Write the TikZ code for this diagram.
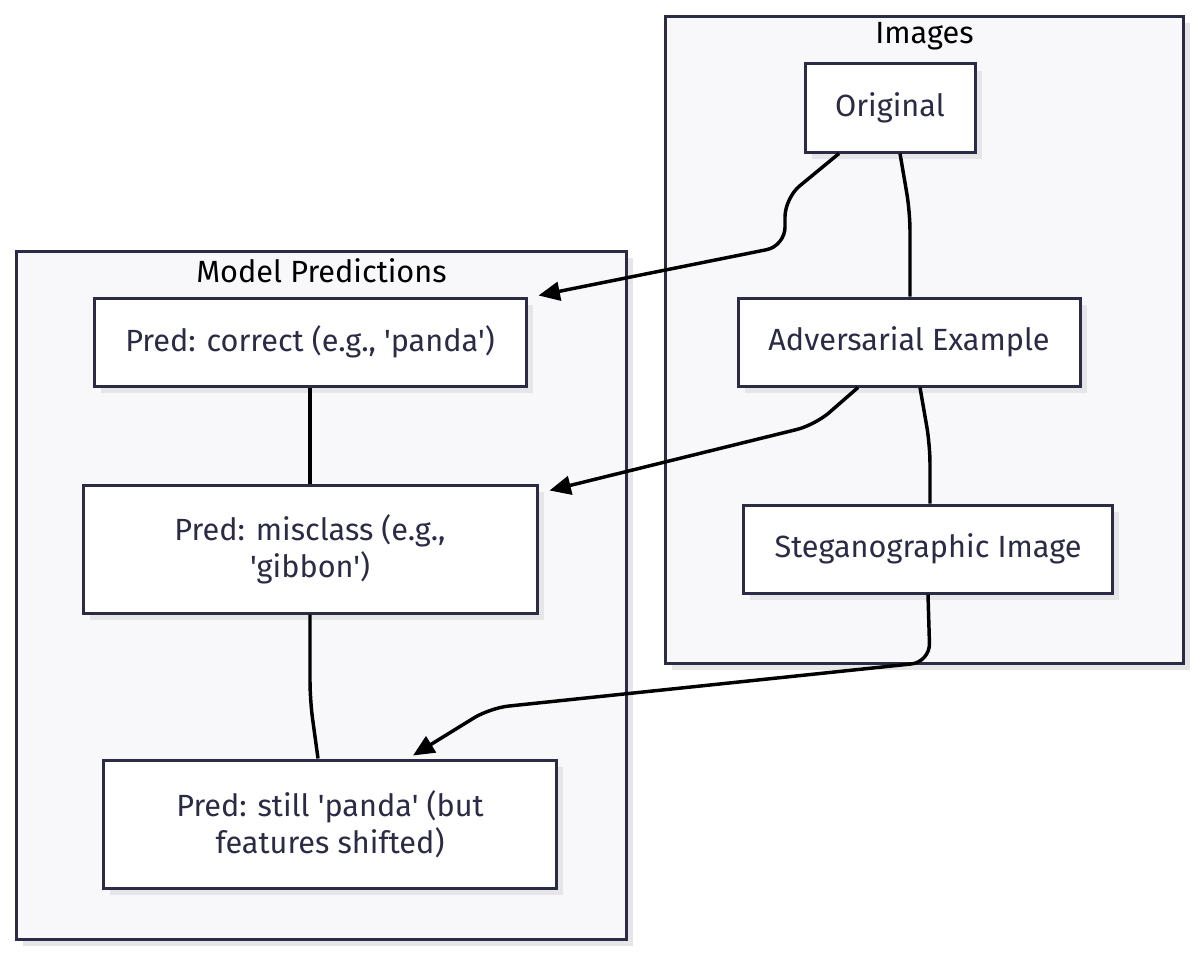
\documentclass[tikz,border=0pt]{standalone}
\usepackage{fontspec}
\setmainfont{Fira Sans}[Ligatures=TeXOff]
\usetikzlibrary{arrows.meta,positioning,calc,shadows}
\definecolor{Ink}{HTML}{2B2B45}
\definecolor{Pane}{HTML}{F8F8FA}
\definecolor{Shade}{HTML}{E6E6E9}

\begin{document}
\begin{tikzpicture}[x=0.75pt, y=-0.75pt, font=\fontsize{23}{28}\selectfont,
  shade/.style={drop shadow={shadow xshift=5pt, shadow yshift=-5pt, fill=Shade, opacity=1}},
  pane/.style={draw=Ink, line width=2.25pt, fill=Pane, shade, anchor=north west, inner sep=0pt},
  box/.style={draw=Ink, line width=2.25pt, fill=white, text=Ink, align=center, shade, inner sep=0pt},
  title/.style={text=black},
  link/.style={line width=2.6pt, rounded corners=14pt},
  flow/.style={link, -{Triangle[length=16pt, width=14pt]}}]
  \useasboundingbox[fill=white] (0,0) rectangle (1200,956);

  % groups
  \node[pane, minimum width=518*0.75pt, minimum height=647*0.75pt] (imgs) at (664,15) {};
  \node[title] (imgst) at ($(imgs.north)+(0,21)$) {Images};
  \node[pane, minimum width=610*0.75pt, minimum height=688*0.75pt] (preds) at (15,250) {};
  \node[title] (predst) at ($(preds.north)+(0,21)$) {Model Predictions};

  % images
  \node[box, minimum width=170*0.75pt, minimum height=88*0.75pt] (orig) at (890,108) {Original};
  \node[box, minimum width=342*0.75pt, minimum height=88*0.75pt] (adv) at (909,342) {Adversarial Example};
  \node[box, minimum width=369*0.75pt, minimum height=88*0.75pt] (steg) at (928,549) {Steganographic Image};

  % predictions
  \node[box, minimum width=432*0.75pt, minimum height=88*0.75pt] (corr) at (310,342) {Pred: correct (e.g., 'panda')};
  \node[box, minimum width=454*0.75pt, minimum height=128*0.75pt] (miss) at (310,549) {Pred: misclass (e.g.,\\'gibbon')};
  \node[box, minimum width=453*0.75pt, minimum height=128*0.75pt] (still) at (330,824) {Pred: still 'panda' (but\\features shifted)};

  \draw[flow] ($(orig.south)+(-51,0)$) -- (785,198) -- (785,246) -- ($(corr.north east)+(11,-1)$);
  \draw[link] ($(orig.south)+(10,0)$) -- (910,212) -- ($(adv.north)+(1,0)$);
  \draw[link] (corr) -- (miss);
  \draw[flow] ($(adv.south)+(-51,0)$) -- (815,425) -- ($(miss.north east)+(11,7)$);
  \draw[link] ($(adv.south)+(11,0)$) -- (930,445) -- ($(steg.north)+(2,0)$);
  \draw[link] (miss) -- (310,700) -- ($(still.north)+(-12,0)$);
  \draw[flow] (steg.south) -- (930,662) -- (490,708) -- ($(still.north)+(83,-3)$);
\end{tikzpicture}
\end{document}
